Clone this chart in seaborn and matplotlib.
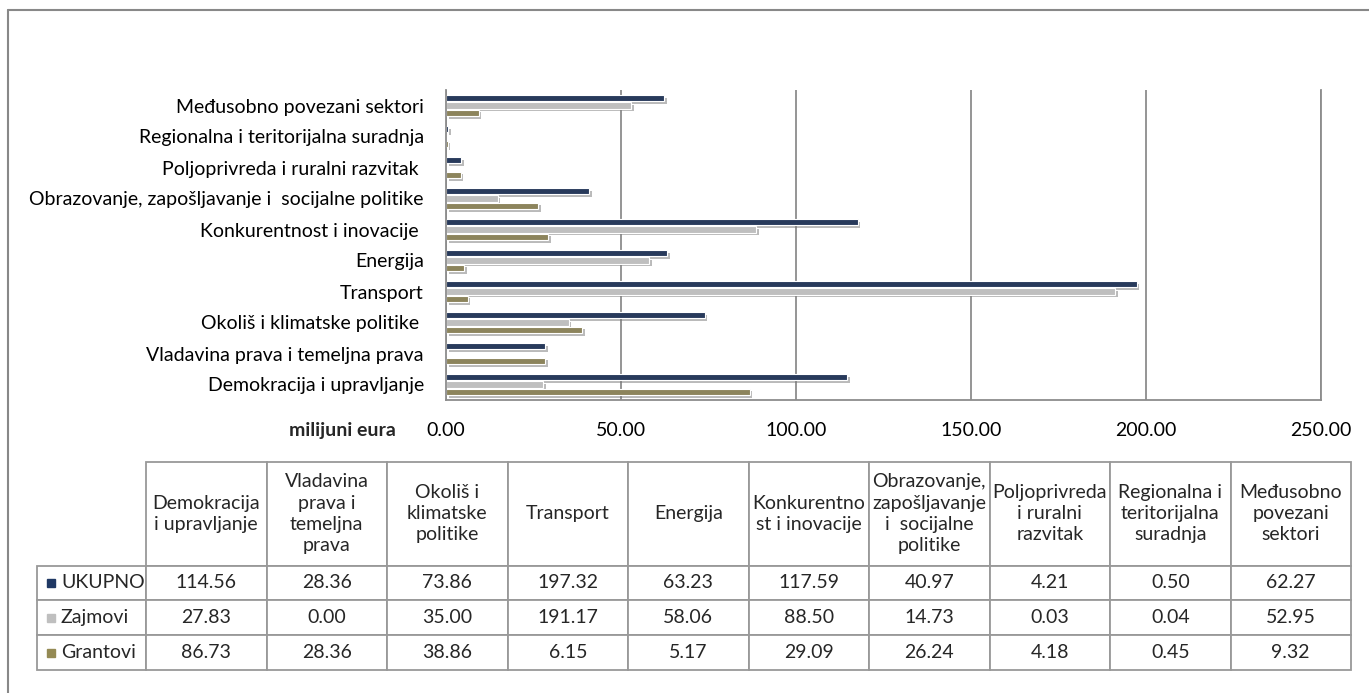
import numpy as np
import pandas as pd
import seaborn as sns
import matplotlib.pyplot as plt
import matplotlib.patheffects as pe
from matplotlib.lines import Line2D
from matplotlib.patches import Rectangle

sns.set_style("white")
plt.rcParams['font.family'] = ['Lato', 'DejaVu Sans']

categories = ["Demokracija i upravljanje",
              "Vladavina prava i temeljna prava",
              "Okoliš i klimatske politike ",
              "Transport",
              "Energija",
              "Konkurentnost i inovacije ",
              "Obrazovanje, zapošljavanje i  socijalne politike",
              "Poljoprivreda i ruralni razvitak ",
              "Regionalna i teritorijalna suradnja",
              "Međusobno povezani sektori"]
table_headers = ["Demokracija\ni upravljanje",
                 "Vladavina\nprava i\ntemeljna\nprava",
                 "Okoliš i\nklimatske\npolitike",
                 "Transport",
                 "Energija",
                 "Konkurentno\nst i inovacije",
                 "Obrazovanje,\nzapošljavanje\ni  socijalne\npolitike",
                 "Poljoprivreda\ni ruralni\nrazvitak",
                 "Regionalna i\nteritorijalna\nsuradnja",
                 "Međusobno\npovezani\nsektori"]
series = ["UKUPNO", "Zajmovi", "Grantovi"]
ukupno = [114.56, 28.36, 73.86, 197.32, 63.23, 117.59, 40.97, 4.21, 0.50, 62.27]
zajmovi = [27.83, 0.00, 35.00, 191.17, 58.06, 88.50, 14.73, 0.03, 0.04, 52.95]
grantovi = [86.73, 28.36, 38.86, 6.15, 5.17, 29.09, 26.24, 4.18, 0.45, 9.32]
x_ticks = [0, 50, 100, 150, 200, 250]
colors = ["#1F3864", "#BFBFBF", "#948A54"]

W, H = 1369, 693
fs = 14
grid_col = '#8C8C8C'

df = pd.DataFrame({"category": categories, "UKUPNO": ukupno,
                   "Zajmovi": zajmovi, "Grantovi": grantovi})
df = df.melt(id_vars="category", var_name="series", value_name="value")

fig = plt.figure(figsize=(W / 100, H / 100), dpi=100)
ax = fig.add_axes([446 / W, 1 - 400 / H, (1321 - 446) / W, 310 / H])

sns.barplot(data=df, y="category", x="value", hue="series",
            order=categories[::-1], hue_order=series, palette=colors,
            orient="h", width=0.7, gap=0.12, edgecolor="white", linewidth=0.8,
            errorbar=None, legend=False, ax=ax)

shadow = [pe.SimplePatchShadow(offset=(2, -2), shadow_rgbFace='#777777', alpha=0.5), pe.Normal()]
for p in ax.patches:
    p.set_path_effects(shadow)

ax.set_xlim(0, 250)
ax.set_xticks(x_ticks)
ax.set_xticklabels([f"{v:.2f}" for v in x_ticks])
ax.set_xlabel("")
ax.set_ylabel("")
ax.xaxis.grid(True, color=grid_col, lw=1.3)
ax.yaxis.grid(False)
ax.set_axisbelow(True)
ax.tick_params(axis='x', length=0, pad=16, labelsize=fs, colors='black')
ax.tick_params(axis='y', length=0, pad=16, labelsize=fs, colors='black')
for s in ['left', 'bottom', 'right']:
    ax.spines[s].set_color(grid_col)
    ax.spines[s].set_linewidth(1.3)
ax.spines['top'].set_visible(False)

fig.text(396 / W, 1 - 430 / H, "milijuni eura", ha='right', va='center',
         fontsize=fs, fontweight='bold')

# outer frame (only top and left are visible in the crop)
fig.add_artist(Line2D([8 / W, 8 / W], [0, 1 - 10 / H], color='#888888', lw=1.5))
fig.add_artist(Line2D([8 / W, 1], [1 - 10 / H, 1 - 10 / H], color='#888888', lw=1.5))

# data table (series names go in an ordinary first column)
tx0, tx1, ty0, ty1 = 37, 1351, 462, 670
tax = fig.add_axes([tx0 / W, 1 - ty1 / H, (tx1 - tx0) / W, (ty1 - ty0) / H])
tax.axis('off')
lab_w, col_w, head_h, row_h = 109, 120.5, 104, 35
tot_w = lab_w + 10 * col_w
tot_h = head_h + 3 * row_h

cell_text = [[name] + [f"{v:.2f}" for v in vals]
             for name, vals in zip(series, (ukupno, zajmovi, grantovi))]
tbl = tax.table(cellText=cell_text, colLabels=[""] + table_headers,
                cellLoc='center', bbox=[0, 0, 1, 1])
tbl.auto_set_font_size(False)
tbl.set_fontsize(fs)
for (r, c), cell in tbl.get_celld().items():
    cell.set_edgecolor('#999999')
    cell.set_linewidth(1.3)
    cell.set_width((lab_w if c == 0 else col_w) / tot_w)
    cell.set_height((head_h if r == 0 else row_h) / tot_h)
    if r == 0:
        cell.get_text().set_linespacing(1.3)
    if c == 0:
        cell.get_text().set_horizontalalignment('left')
        cell.PAD = 0.22
        if r == 0:
            cell.set_visible(False)

for i, col in enumerate(colors):
    yc = 1 - (head_h + row_h * (i + 0.5)) / tot_h
    tax.add_patch(Rectangle((10 / tot_w, yc - 4 / tot_h), 8 / tot_w, 8 / tot_h,
                            transform=tax.transAxes, color=col, clip_on=False,
                            zorder=5))

fig.savefig("out.png", dpi=100)
